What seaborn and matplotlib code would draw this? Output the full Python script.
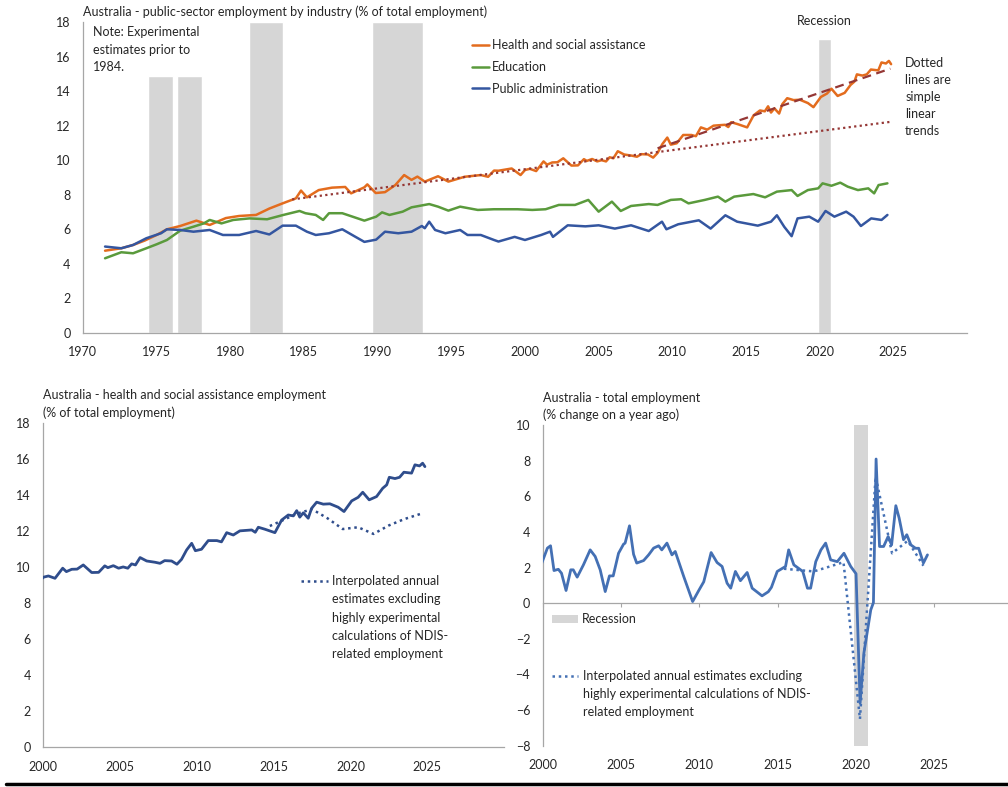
import numpy as np
import pandas as pd
import seaborn as sns
import matplotlib.pyplot as plt
from matplotlib.lines import Line2D
from matplotlib.patches import Patch
from matplotlib.legend_handler import HandlerLine2D


# -----------------------------------------------------------------------------
# Datos
# -----------------------------------------------------------------------------
health_years = [1971.5, 1972.6, 1973.4, 1974.2, 1975.0, 1975.7, 1976.6, 1977.7,
                1978.6, 1979.7, 1980.6, 1981.75, 1982.65, 1983.55, 1984.45, 1984.8,
                1985.2, 1986.0, 1986.9, 1987.8, 1988.2, 1989.1, 1989.3, 1989.87,
                1990.5, 1991.2, 1991.8, 1992.3, 1992.7, 1993.2, 1994.1, 1994.8,
                1995.9, 1997.0, 1997.5, 1997.9, 1998.2, 1999.1, 1999.7,
                2000.0, 2000.33, 2000.76, 2001.26, 2001.5, 2001.85, 2002.2, 2002.6,
                2003.15, 2003.6, 2004.0, 2004.2, 2004.56, 2004.9, 2005.2, 2005.5,
                2005.75, 2006.0, 2006.3, 2006.73, 2007.27, 2007.6, 2007.9, 2008.35,
                2008.7, 2009.0, 2009.33, 2009.66, 2009.9, 2010.3, 2010.74, 2011.3,
                2011.6, 2011.94, 2012.37, 2012.8, 2013.57, 2013.8, 2014.0, 2014.43,
                2015.08, 2015.52, 2015.95, 2016.28, 2016.5, 2016.7, 2016.93, 2017.25,
                2017.47, 2017.8, 2018.23, 2018.66, 2019.2, 2019.58, 2020.08, 2020.5,
                2020.8, 2021.22, 2021.7, 2022.1, 2022.36, 2022.53, 2022.9, 2023.2,
                2023.48, 2023.98, 2024.2, 2024.5, 2024.7, 2024.85]
health_vals = [4.76, 4.9, 5.09, 5.35, 5.67, 6.0, 6.19, 6.5,
               6.25, 6.65, 6.77, 6.83, 7.2, 7.5, 7.79, 8.24,
               7.85, 8.27, 8.41, 8.45, 8.08, 8.43, 8.6, 8.1,
               8.15, 8.56, 9.14, 8.86, 9.05, 8.76, 9.07, 8.76,
               9.04, 9.14, 9.04, 9.4, 9.39, 9.52, 9.14,
               9.43, 9.5, 9.37, 9.93, 9.74, 9.87, 9.88, 10.11,
               9.69, 9.7, 10.06, 9.96, 10.07, 9.93, 10.0, 9.93,
               10.17, 10.11, 10.52, 10.33, 10.26, 10.2, 10.35, 10.33,
               10.15, 10.42, 10.94, 11.31, 10.9, 10.98, 11.46, 11.46,
               11.39, 11.9, 11.77, 12.0, 12.05, 11.92, 12.2, 12.09,
               11.9, 12.6, 12.88, 12.83, 13.12, 12.76, 13.0, 12.7,
               13.25, 13.59, 13.48, 13.5, 13.31, 13.07, 13.66, 13.86,
               14.14, 13.72, 13.9, 14.36, 14.55, 14.97, 14.9, 14.97,
               15.25, 15.2, 15.66, 15.6, 15.75, 15.56]

edu_years = [1971.5, 1972.6, 1973.4, 1974.3, 1975.0, 1975.7, 1976.6, 1977.5,
             1978.2, 1978.6, 1979.4, 1980.2, 1981.3, 1982.5, 1983.6, 1984.7,
             1985.1, 1985.8, 1986.3, 1986.7, 1987.6, 1988.3, 1989.1, 1989.9,
             1990.3, 1990.8, 1991.7, 1992.3, 1993.5, 1994.1, 1994.8, 1995.6,
             1996.8, 1997.9, 1999.5, 2000.5, 2001.4, 2002.3, 2003.4, 2004.3,
             2005.0, 2005.9, 2006.5, 2007.2, 2008.4, 2009.0, 2009.9, 2010.6,
             2011.1, 2012.2, 2013.1, 2013.6, 2014.2, 2015.5, 2016.3, 2017.1,
             2018.1, 2018.5, 2019.2, 2019.9, 2020.2, 2020.8, 2021.4, 2021.9,
             2022.6, 2023.3, 2023.7, 2024.0, 2024.6]
edu_vals = [4.32, 4.67, 4.61, 4.9, 5.13, 5.38, 5.92, 6.15,
            6.34, 6.54, 6.34, 6.54, 6.63, 6.58, 6.83, 7.06,
            6.93, 6.83, 6.54, 6.93, 6.93, 6.73, 6.5, 6.73,
            6.98, 6.83, 7.02, 7.27, 7.46, 7.31, 7.08, 7.31,
            7.12, 7.16, 7.16, 7.12, 7.16, 7.41, 7.41, 7.7,
            7.02, 7.6, 7.06, 7.35, 7.46, 7.41, 7.7, 7.74,
            7.5, 7.7, 7.89, 7.6, 7.89, 8.04, 7.85, 8.18,
            8.27, 7.93, 8.27, 8.37, 8.66, 8.52, 8.7, 8.47,
            8.27, 8.37, 8.08, 8.56, 8.66]

pa_years = [1971.5, 1972.6, 1973.4, 1974.3, 1975.3, 1975.7, 1976.6, 1977.5,
            1978.6, 1979.5, 1980.6, 1981.75, 1982.65, 1983.55, 1984.45, 1985.2,
            1985.8, 1986.7, 1987.6, 1988.5, 1989.1, 1989.9, 1990.5, 1991.4,
            1992.3, 1993.0, 1993.2, 1993.5, 1993.9, 1994.6, 1995.6, 1996.1,
            1997.0, 1997.9, 1998.2, 1999.3, 2000.0, 2001.1, 2001.7, 2001.9,
            2002.9, 2004.1, 2005.0, 2006.1, 2007.2, 2008.4, 2009.3, 2009.6,
            2010.4, 2011.8, 2012.6, 2013.6, 2014.4, 2015.8, 2016.7, 2017.1,
            2017.6, 2018.1, 2018.5, 2019.3, 2019.9, 2020.4, 2021.0, 2021.8,
            2022.3, 2022.8, 2023.5, 2024.2, 2024.6]
pa_vals = [5.0, 4.9, 5.09, 5.48, 5.77, 6.0, 5.96, 5.86,
           5.96, 5.67, 5.67, 5.9, 5.7, 6.21, 6.21, 5.86,
           5.67, 5.77, 6.0, 5.56, 5.27, 5.4, 5.86, 5.77,
           5.86, 6.19, 6.06, 6.44, 5.96, 5.77, 5.96, 5.67,
           5.67, 5.38, 5.29, 5.56, 5.38, 5.67, 5.86, 5.56,
           6.23, 6.17, 6.23, 6.04, 6.23, 5.9, 6.44, 6.0,
           6.29, 6.52, 6.04, 6.81, 6.44, 6.21, 6.44, 6.81,
           6.14, 5.6, 6.63, 6.73, 6.44, 7.06, 6.73, 7.02,
           6.73, 6.19, 6.63, 6.54, 6.83]

# Tendencias lineales (extremos)
trend_long_years = [1984.2, 2024.9]
trend_long_vals = [7.73, 12.23]
trend_short_years = [2009.0, 2024.8]
trend_short_vals = [10.69, 15.3]

# Recesiones del gráfico superior
rec_top_start = [1974.4, 1976.4, 1981.3, 1989.6, 2019.9]
rec_top_end = [1976.1, 1978.1, 1983.6, 1993.1, 2020.8]
rec_top_height = [14.9, 14.9, 18.0, 18.0, 17.0]

# Estimaciones anuales interpoladas sin NDIS (salud)
health_ex_years = [2014.75, 2015.5, 2016.5, 2017.5, 2018.5, 2019.5, 2020.5,
                   2021.5, 2022.5, 2023.5, 2024.6]
health_ex_vals = [12.27, 12.55, 12.95, 13.2, 12.7, 12.1, 12.2,
                  11.83, 12.3, 12.65, 12.95]

# Empleo total (% cambio anual)
emp_years = [1999.94, 2000.3, 2000.5, 2000.72, 2001.0, 2001.2, 2001.49, 2001.79,
             2001.95, 2002.2, 2002.6, 2003.03, 2003.35, 2003.67, 2003.99, 2004.26,
             2004.5, 2004.84, 2005.16, 2005.26, 2005.54, 2005.8, 2006.0, 2006.44,
             2006.76, 2007.08, 2007.4, 2007.6, 2007.93, 2008.25, 2008.46, 2009.0,
             2009.57, 2009.96, 2010.28, 2010.75, 2011.13, 2011.45, 2011.77, 2012.0,
             2012.3, 2012.62, 2013.05, 2013.37, 2014.0, 2014.4, 2014.6, 2014.97,
             2015.5, 2015.7, 2016.03, 2016.6, 2016.9, 2017.1, 2017.43, 2017.76,
             2018.06, 2018.38, 2018.8, 2019.23, 2019.66, 2020.0, 2020.26, 2020.5,
             2020.94, 2021.11, 2021.28, 2021.5, 2021.76, 2022.05, 2022.27, 2022.54,
             2022.75, 2023.03, 2023.24, 2023.5, 2023.8, 2024.0, 2024.3, 2024.56]
emp_vals = [2.25, 3.09, 3.22, 1.83, 1.9, 1.68, 0.71, 1.87,
            1.87, 1.46, 2.15, 2.99, 2.62, 1.87, 0.65, 1.53,
            1.53, 2.8, 3.31, 3.37, 4.34, 2.74, 2.25, 2.39,
            2.71, 3.09, 3.22, 2.99, 3.37, 2.71, 2.9, 1.5,
            0.09, 0.71, 1.2, 2.84, 2.28, 2.06, 1.12, 0.84,
            1.78, 1.26, 1.72, 0.84, 0.41, 0.64, 0.89, 1.78,
            2.06, 2.99, 2.15, 1.78, 0.84, 0.84, 2.33, 2.99,
            3.37, 2.43, 2.33, 2.8, 2.06, 1.65, -5.62, -2.81,
            -0.38, 0.03, 8.09, 3.18, 3.18, 3.74, 3.27, 5.47,
            4.78, 3.56, 3.84, 3.27, 3.08, 3.08, 2.25, 2.71]

emp_ex_years = [2015.4, 2016.4, 2017.3, 2018.3, 2019.2, 2020.25, 2021.25,
                2022.3, 2023.3, 2024.3]
emp_ex_vals = [1.93, 1.85, 1.78, 2.05, 2.3, -6.5, 7.1, 2.8, 3.5, 2.1]

rec_bottom_start = [2019.85]
rec_bottom_end = [2020.75]


# -----------------------------------------------------------------------------
# Estilo
# -----------------------------------------------------------------------------
sns.set_style("white")
plt.rcParams["font.family"] = ["Lato", "DejaVu Sans"]
plt.rcParams["font.size"] = 9

c_health = "#e36c1e"
c_edu = "#5a9a3c"
c_pa = "#3456a0"
c_trend = "#953735"
c_grey = "#d6d6d6"
c_spine = "#a6a6a6"
c_text = "#262626"
c_blue_bl = "#2f4d8c"
c_blue_br = "#4470b4"


class HandlerPrimeraLinea(HandlerLine2D):
    """Coloca la muestra de la leyenda a la altura de la primera línea del texto."""

    def __init__(self, dy, **kw):
        super().__init__(**kw)
        self.dy = dy

    def create_artists(self, legend, orig_handle, xdescent, ydescent, width,
                       height, fontsize, trans):
        arts = super().create_artists(legend, orig_handle, xdescent, ydescent,
                                      width, height, fontsize, trans)
        for a in arts:
            a.set_ydata(np.asarray(a.get_ydata()) + self.dy * fontsize)
        return arts


def estilo_ejes(ax):
    for s in ["top", "right"]:
        ax.spines[s].set_visible(False)
    for s in ["left", "bottom"]:
        ax.spines[s].set_color(c_spine)
        ax.spines[s].set_linewidth(0.9)
    ax.tick_params(axis="both", direction="out", length=3, width=0.8,
                   color=c_spine, labelcolor=c_text, labelsize=9)
    ax.tick_params(axis="x", pad=6.5)
    ax.tick_params(axis="y", pad=6)
    ax.set_xlabel("")
    ax.set_ylabel("")


fig = plt.figure(figsize=(10.08, 7.87), dpi=100)

# -----------------------------------------------------------------------------
# Gráfico superior
# -----------------------------------------------------------------------------
ax1 = fig.add_axes([0.0823, 0.577, 0.8770, 0.395])

ax1.bar(rec_top_start, rec_top_height,
        width=np.array(rec_top_end) - np.array(rec_top_start),
        align="edge", color=c_grey, zorder=0)

df_top = pd.concat([
    pd.DataFrame({"year": health_years, "value": health_vals,
                  "serie": "Health and social assistance"}),
    pd.DataFrame({"year": edu_years, "value": edu_vals, "serie": "Education"}),
    pd.DataFrame({"year": pa_years, "value": pa_vals,
                  "serie": "Public administration"}),
])
paleta = {"Health and social assistance": c_health, "Education": c_edu,
          "Public administration": c_pa}
sns.lineplot(data=df_top, x="year", y="value", hue="serie", palette=paleta,
             linewidth=1.8, legend=False, ax=ax1, zorder=3)

sns.lineplot(x=trend_long_years, y=trend_long_vals, color=c_trend,
             linewidth=1.6, linestyle=(0, (1, 1.5)), ax=ax1, zorder=4)
sns.lineplot(x=trend_short_years, y=trend_short_vals, color=c_trend,
             linewidth=1.6, linestyle=(0, (4, 2.5)), ax=ax1, zorder=4)

ax1.set_xlim(1970, 2030)
ax1.set_ylim(0, 18)
ax1.set_xticks(np.arange(1970, 2026, 5))
ax1.set_yticks(np.arange(0, 19, 2))
estilo_ejes(ax1)

handles = [Line2D([], [], color=paleta[k], lw=1.8) for k in paleta]
ax1.legend(handles, list(paleta.keys()), loc="upper left",
           bbox_to_anchor=(0.44, 0.945), frameon=False, fontsize=9,
           handlelength=1.4, handletextpad=0.2, labelspacing=0.78,
           borderpad=0, borderaxespad=0)

ax1.text(0, 1.012, "Australia - public-sector employment by industry (% of total employment)",
         transform=ax1.transAxes, ha="left", va="bottom", fontsize=9, color=c_text)
ax1.text(1970.7, 17.75, "Note: Experimental\nestimates prior to\n1984.",
         ha="left", va="top", fontsize=9, color=c_text, linespacing=1.52)
ax1.text(2020.35, 18.05, "Recession", ha="center", va="center", fontsize=9,
         color=c_text, clip_on=False)
ax1.text(2025.8, 16.0, "Dotted\nlines are\nsimple\nlinear\ntrends",
         ha="left", va="top", fontsize=9, color=c_text, linespacing=1.52)

# -----------------------------------------------------------------------------
# Gráfico inferior izquierdo
# -----------------------------------------------------------------------------
ax2 = fig.add_axes([0.043, 0.0504, 0.457, 0.4126])

sns.lineplot(x=health_years, y=health_vals, color=c_blue_bl, linewidth=2.0,
             ax=ax2, zorder=3)
sns.lineplot(x=health_ex_years, y=health_ex_vals, color=c_blue_bl, linewidth=1.8,
             linestyle=(0, (1, 1.5)), ax=ax2, zorder=2)

ax2.set_xlim(2000, 2030)
ax2.set_ylim(0, 18)
ax2.set_xticks(np.arange(2000, 2026, 5))
ax2.set_yticks(np.arange(0, 19, 2))
estilo_ejes(ax2)

muestra_bl = Line2D([], [], color=c_blue_bl, lw=1.8, linestyle=(0, (1, 1.5)))
leg_bl = ax2.legend([muestra_bl],
                    ["Interpolated annual\nestimates excluding\nhighly experimental\n"
                     "calculations of NDIS-\nrelated employment"],
                    handler_map={muestra_bl: HandlerPrimeraLinea(2.95)},
                    loc="upper left", bbox_to_anchor=(0.56, 0.53), frameon=False,
                    fontsize=9, handlelength=2.1, handletextpad=0.35,
                    borderpad=0, borderaxespad=0)
leg_bl.get_texts()[0].set_linespacing(1.62)

ax2.text(0, 1.012, "Australia - health and social assistance employment\n(% of total employment)",
         transform=ax2.transAxes, ha="left", va="bottom", fontsize=9,
         color=c_text, linespacing=1.46)

# -----------------------------------------------------------------------------
# Gráfico inferior derecho
# -----------------------------------------------------------------------------
ax3 = fig.add_axes([0.5384, 0.0525, 0.4616, 0.4075])

for s, e in zip(rec_bottom_start, rec_bottom_end):
    ax3.axvspan(s, e, color=c_grey, lw=0, zorder=0)

sns.lineplot(x=emp_years, y=emp_vals, color=c_blue_br, linewidth=2.0,
             ax=ax3, zorder=3)
sns.lineplot(x=emp_ex_years, y=emp_ex_vals, color=c_blue_br, linewidth=1.8,
             linestyle=(0, (1, 1.5)), ax=ax3, zorder=2)

ax3.set_xlim(2000, 2029.7)
ax3.set_ylim(-8, 10)
ax3.set_xticks(np.arange(2000, 2026, 5))
ax3.set_yticks(np.arange(-8, 11, 2))
estilo_ejes(ax3)
ax3.spines["bottom"].set_visible(False)
ax3.tick_params(axis="x", length=0, pad=9.5)

eje_cero = ax3.secondary_xaxis(0, transform=ax3.transData)
eje_cero.set_xticks(np.arange(2000, 2026, 5))
eje_cero.set_xticklabels([])
eje_cero.spines["bottom"].set_color(c_spine)
eje_cero.spines["bottom"].set_linewidth(0.9)
eje_cero.tick_params(axis="x", direction="out", length=3, width=0.8, color=c_spine)

leg_rec = ax3.legend([Patch(facecolor=c_grey, edgecolor="none")], ["Recession"],
                     loc="upper left", bbox_to_anchor=(0.02, 0.413), frameon=False,
                     fontsize=9, handlelength=2.1, handleheight=0.6,
                     handletextpad=0.3, borderpad=0, borderaxespad=0)
ax3.add_artist(leg_rec)
muestra_br = Line2D([], [], color=c_blue_br, lw=1.8, linestyle=(0, (1, 1.5)))
leg_br = ax3.legend([muestra_br],
                    ["Interpolated annual estimates excluding\nhighly experimental calculations of NDIS-\n"
                     "related employment"],
                    handler_map={muestra_br: HandlerPrimeraLinea(1.47)},
                    loc="upper left", bbox_to_anchor=(0.02, 0.237), frameon=False,
                    fontsize=9, handlelength=2.1, handletextpad=0.35,
                    borderpad=0, borderaxespad=0)
leg_br.get_texts()[0].set_linespacing(1.62)

ax3.text(0, 1.012, "Australia - total employment\n(% change on a year ago)",
         transform=ax3.transAxes, ha="left", va="bottom", fontsize=9,
         color=c_text, linespacing=1.46)

# Línea negra inferior
fig.add_artist(Line2D([0.006, 1.0], [0.004, 0.004], transform=fig.transFigure,
                      color="black", lw=2.5))

plt.savefig("out.png", dpi=100)
